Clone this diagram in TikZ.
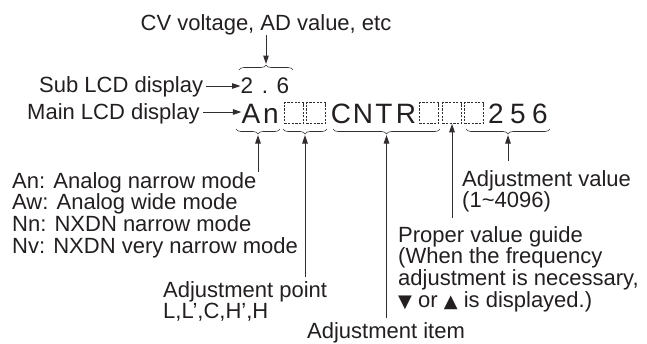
\documentclass[tikz,border=0pt]{standalone}
\usepackage{fontspec}
\setmainfont{Liberation Sans}
\newfontfamily\symfont{DejaVu Sans}
\usepackage{xcolor}
\usepackage{tikz}
\usetikzlibrary{calc, arrows.meta, positioning, decorations.pathreplacing}
\definecolor{inkblack}{RGB}{35,31,32}
\definecolor{linegray}{RGB}{50,46,46}

\begin{document}
\begin{tikzpicture}[
        x = 1pt, y = -1pt,
        label/.style = {inner sep=0pt, text=inkblack, align=left, font=\fontsize{22}{21.7}\selectfont},
        lcd/.style = {inner sep=0pt, anchor=base, text=inkblack, font=\fontsize{28}{28}\selectfont},
        sublcd/.style = {lcd, font=\fontsize{22.5}{22.5}\selectfont},
        blank/.style = {draw=linegray, dash pattern=on 2.2pt off 1.4pt, line width=0.5pt, minimum width=19pt, minimum height=21pt, inner sep=0pt},
        bracket/.style = {draw=linegray, line width=0.6pt, decorate, decoration={brace, amplitude=5pt}},
        lowbracket/.style = {bracket, decoration={brace, amplitude=5pt, mirror}},
        arrow/.style = {draw=linegray, line width=1pt, -{Triangle[length=8.5pt, width=5.5pt]}}
    ]

        \useasboundingbox (0,0) rectangle (647,343);

        % Sub LCD
        \node (s2) [sublcd] at (247,93) {2};
        \node (sdot) [sublcd] at (265,93) {.};
        \node (s6) [sublcd] at (283,93) {6};

        % Main LCD
        \node (mA) [lcd] at (251,123) {A};
        \node (mn) [lcd] at (271,123) {n};
        \node (b1) [blank] at (294,113) {};
        \node (b2) [blank] at (316,113) {};
        \node (mC) [lcd] at (341,123) {C};
        \node (mN) [lcd] at (363,123) {N};
        \node (mT) [lcd] at (384,123) {T};
        \node (mR) [lcd] at (406,123) {R};
        \node (b3) [blank] at (429,113) {};
        \node (b4) [blank] at (452,113) {};
        \node (b5) [blank] at (474,113) {};
        \node (d2) [lcd] at (496,123) {2};
        \node (d5) [lcd] at (518,123) {5};
        \node (d6) [lcd] at (540,123) {6};

        % Braces
        \draw [bracket] (239,70) -- (293,70);
        \draw [lowbracket] (236,129) -- (280,129);
        \draw [lowbracket] (283,129) -- (327,129);
        \draw [lowbracket] (333,129) -- (440,129);
        \draw [lowbracket] (466,129) -- (550,129);
        \coordinate (subTip) at (266,64);
        \coordinate (anTip) at (258,135);
        \coordinate (ptTip) at (305,135);
        \coordinate (itemTip) at (386.5,135);
        \coordinate (valTip) at (508,135);

        % Labels
        \node (cv) [label, anchor=base] at (266,30) {CV voltage, AD value, etc};
        \node (subtxt) [label, anchor=base west] at (39,92) {Sub LCD display};
        \node (maintxt) [label, anchor=base west] at (27,119) {Main LCD display};
        \node (modes) [label, anchor=north west] at (12,172) {An: Analog narrow mode\\Aw: Analog wide mode\\Nn: NXDN narrow mode\\Nv: NXDN very narrow mode};
        \node (apt) [label, anchor=north west] at (163,281) {Adjustment point\\L,L’,C,H’,H};
        \node (item) [label, anchor=north west] at (307,322) {Adjustment item};
        \node (aval) [label, anchor=north west] at (462,170) {Adjustment value\\(1\textasciitilde4096)};
        \node (guide) [label, anchor=north west] at (398,226) {Proper value guide\\(When the frequency\\adjustment is necessary,\\{\symfont\fontsize{18}{18}\selectfont ▼} or {\symfont\fontsize{18}{18}\selectfont ▲} is displayed.)};

        % Arrows
        \draw [arrow] (cv.south -| subTip) -- (subTip);
        \draw [arrow, shorten <=3pt] (subtxt.east |- 0,86) -- (s2.west |- 0,86);
        \draw [arrow, shorten <=3pt] (maintxt.east |- 0,112) -- (mA.west |- 0,112);
        \draw [arrow] (modes.north -| anTip) -- (anTip);
        \draw [arrow, shorten <=4pt] (apt.north -| ptTip) -- (ptTip);
        \draw [arrow, shorten <=4pt] (item.north -| itemTip) -- (itemTip);
        \draw [arrow, shorten <=8pt] (guide.north -| b4) -- (b4.south);
        \draw [arrow, shorten <=9pt] (aval.north -| valTip) -- (valTip);

    \end{tikzpicture}
\end{document}
